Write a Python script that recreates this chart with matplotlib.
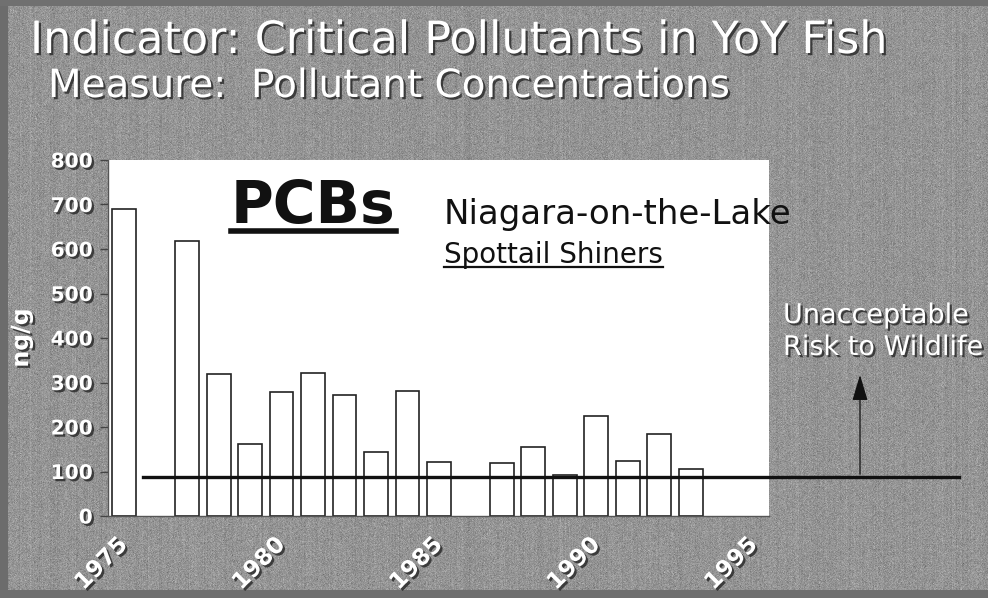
import matplotlib
matplotlib.use("Agg")
import matplotlib.pyplot as plt
import matplotlib.patheffects as pe
from matplotlib.lines import Line2D
import numpy as np

# PCB concentrations in young-of-year spottail shiners, Niagara-on-the-Lake
years = [1975, 1977, 1978, 1979, 1980, 1981, 1982, 1983, 1984, 1985,
         1987, 1988, 1989, 1990, 1991, 1992, 1993]
pcb = [689, 619, 319, 161, 279, 322, 271, 144, 282, 121,
       118, 154, 92, 225, 124, 184, 105]
wildlife_limit = 88
year_ticks = [1975, 1980, 1985, 1990, 1995]
ng_ticks = [0, 100, 200, 300, 400, 500, 600, 700, 800]

W, H = 988, 598
plt.rcParams['font.family'] = ['DejaVu Sans']

fig = plt.figure(figsize=(W / 100, H / 100), dpi=100)

# grey slide background with a bit of scanner grain
bg = fig.add_axes([0, 0, 1, 1], zorder=-5)
rng = np.random.default_rng(7)
tex = 148 + rng.normal(0, 10, (H, W)) + rng.normal(0, 3, (1, W))
tex[:, :8] = 108
tex[:6, :] = 112
tex[590:, :] = 110
bg.imshow(np.clip(tex, 0, 255), cmap='gray', vmin=0, vmax=255,
          aspect='auto', interpolation='nearest')
bg.axis('off')

def px(x, y):
    return x / W, 1 - y / H

shadow = [pe.SimplePatchShadow(offset=(1.6, -1.6), shadow_rgbFace='#1e1e1e', alpha=0.75),
          pe.Normal()]

fig.text(*px(30, 53), "Indicator: Critical Pollutants in YoY Fish", color='white',
         fontsize=32, va='baseline', path_effects=shadow)
fig.text(*px(48, 97), "Measure:  Pollutant Concentrations", color='white',
         fontsize=28, va='baseline', path_effects=shadow)

ax = fig.add_axes([108 / W, 1 - 516 / H, (769 - 108) / W, (516 - 160) / H])
ax.set_facecolor('white')

ax.bar(years, pcb, width=0.76, color='white', edgecolor='#222222', linewidth=1.2, zorder=2)

# threshold line runs past the plot area
ax.plot([1975.6, 2001.5], [wildlife_limit, wildlife_limit], color='#111111',
        linewidth=2.4, clip_on=False, zorder=3)
ax.annotate("", xy=(1998.37, 317), xytext=(1998.37, wildlife_limit + 6),
            arrowprops=dict(arrowstyle='-|>,head_length=0.4,head_width=0.12',
                            color='#111111', lw=0.9, mutation_scale=40,
                            shrinkA=0, shrinkB=0),
            annotation_clip=False)

ax.set_xlim(1974.49, 1995.48)
ax.set_ylim(0, 800)
ax.set_xticks(year_ticks)
ax.set_xticklabels([str(y) for y in year_ticks])
ax.set_yticks(ng_ticks)
ax.set_yticklabels([str(v) for v in ng_ticks])

for lab in ax.get_yticklabels():
    lab.set_color('white')
    lab.set_fontweight('bold')
    lab.set_fontsize(14.5)
    lab.set_path_effects(shadow)
for lab in ax.get_xticklabels():
    lab.set_color('white')
    lab.set_fontweight('bold')
    lab.set_fontsize(16.5)
    lab.set_rotation(45)
    lab.set_ha('right')
    lab.set_va('center')
    lab.set_rotation_mode('anchor')
    lab.set_path_effects(shadow)

ax.tick_params(axis='y', length=6, width=1, color='#444444', pad=5)
ax.tick_params(axis='x', length=0, pad=18)
for side in ['top', 'right']:
    ax.spines[side].set_visible(False)
for side in ['left', 'bottom']:
    ax.spines[side].set_color('#555555')
    ax.spines[side].set_linewidth(1)

ax.set_ylabel("ng/g", color='white', fontweight='bold', fontsize=17,
              path_effects=shadow)
ax.yaxis.set_label_coords(-75 / (769 - 108), 0.5)

t_pcb = fig.text(*px(231, 223), "PCBs", fontsize=42, fontweight='bold',
                 color='#111111', va='baseline')
fig.text(*px(444, 224), "Niagara-on-the-Lake", fontsize=24.5, color='#111111', va='baseline')
t_sp = fig.text(*px(444, 263), "Spottail Shiners", fontsize=20, color='#111111', va='baseline')

fig.text(*px(783, 323), "Unacceptable", fontsize=19.5, color='white',
         va='baseline', path_effects=shadow)
fig.text(*px(783, 355), "Risk to Wildlife", fontsize=19.5, color='white',
         va='baseline', path_effects=shadow)

# underline the two titles inside the plot area
fig.canvas.draw()
r = fig.canvas.get_renderer()
for t, ypix, lw in [(t_pcb, 231, 4.0), (t_sp, 267, 1.6)]:
    bb = t.get_window_extent(r)
    fig.add_artist(Line2D([bb.x0 / W, bb.x1 / W], [1 - ypix / H] * 2,
                          color='#111111', linewidth=lw, transform=fig.transFigure))

fig.savefig("out.png", dpi=100)
